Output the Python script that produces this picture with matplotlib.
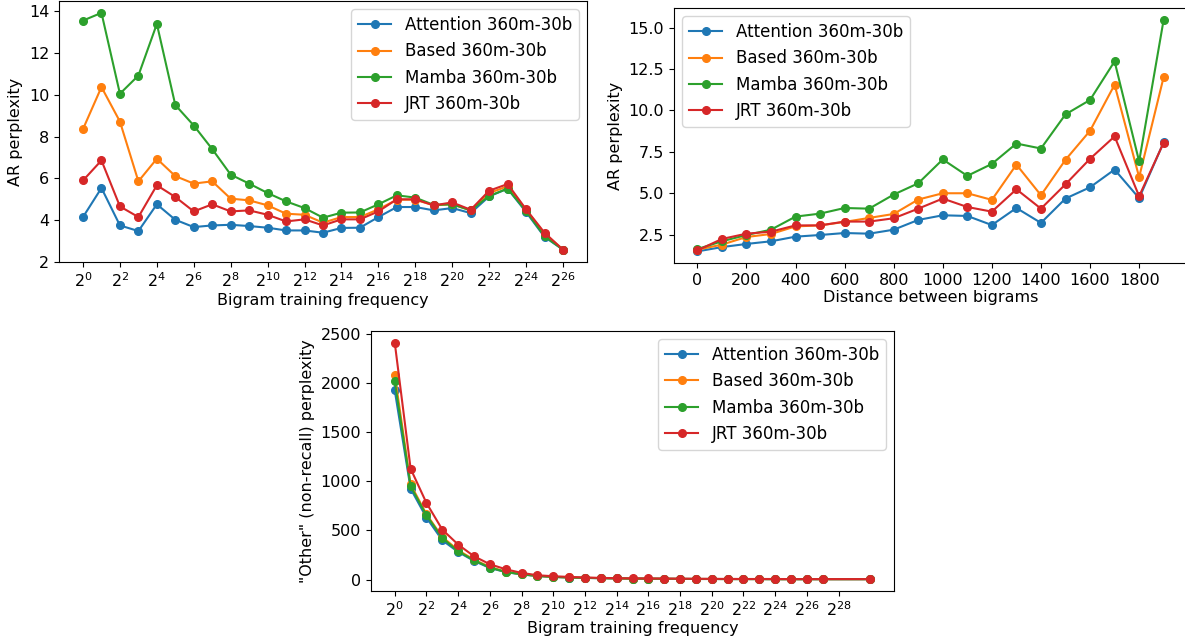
import matplotlib
matplotlib.use("Agg")
import matplotlib.pyplot as plt

plt.rcParams['font.size'] = 11.5

modeli = ["Attention 360m-30b", "Based 360m-30b", "Mamba 360m-30b", "JRT 360m-30b"]
boje = ["#1f77b4", "#ff7f0e", "#2ca02c", "#d62728"]

# AR perplexity po frekvenciji (eksponent od 2)
frek_exp = list(range(27))
ar_frek = {
    "Attention 360m-30b": [4.15, 5.54, 3.75, 3.48, 4.76, 4.02, 3.67, 3.75, 3.78, 3.72, 3.64, 3.51, 3.51, 3.40,
                           3.63, 3.64, 4.15, 4.63, 4.63, 4.47, 4.58, 4.34, 5.14, 5.51, 4.39, 3.20, 2.59],
    "Based 360m-30b": [8.36, 10.37, 8.72, 5.86, 6.94, 6.11, 5.75, 5.86, 5.03, 4.95, 4.71, 4.31, 4.26, 3.88,
                       4.15, 4.15, 4.52, 4.98, 4.98, 4.71, 4.76, 4.47, 5.30, 5.62, 4.50, 3.35, 2.59],
    "Mamba 360m-30b": [13.55, 13.92, 10.05, 10.92, 13.39, 9.51, 8.53, 7.40, 6.18, 5.75, 5.30, 4.90, 4.58, 4.12,
                       4.36, 4.37, 4.76, 5.19, 5.08, 4.73, 4.76, 4.47, 5.16, 5.51, 4.44, 3.23, 2.59],
    "JRT 360m-30b": [5.90, 6.86, 4.66, 4.15, 5.67, 5.11, 4.42, 4.76, 4.42, 4.47, 4.26, 3.94, 4.04, 3.75,
                     4.04, 4.04, 4.42, 5.00, 5.00, 4.71, 4.85, 4.50, 5.41, 5.73, 4.52, 3.40, 2.59],
}

# AR perplexity po udaljenosti
udaljenost = list(range(0, 2000, 100))
ar_udalj = {
    "Attention 360m-30b": [1.49, 1.75, 1.94, 2.10, 2.38, 2.48, 2.60, 2.56, 2.80, 3.39, 3.67, 3.63, 3.08, 4.11,
                           3.21, 4.68, 5.36, 6.43, 4.70, 8.08],
    "Based 360m-30b": [1.59, 1.90, 2.36, 2.54, 3.00, 3.06, 3.27, 3.51, 3.75, 4.62, 5.00, 5.00, 4.60, 6.73,
                       4.88, 7.02, 8.77, 11.55, 5.97, 12.02],
    "Mamba 360m-30b": [1.63, 2.10, 2.48, 2.80, 3.59, 3.77, 4.11, 4.07, 4.92, 5.60, 7.04, 6.05, 6.77, 8.00,
                       7.70, 9.76, 10.63, 12.96, 6.92, 15.48],
    "JRT 360m-30b": [1.55, 2.24, 2.56, 2.68, 3.06, 3.06, 3.29, 3.29, 3.49, 4.07, 4.68, 4.17, 3.89, 5.24,
                     4.07, 5.54, 7.08, 8.43, 4.82, 8.06],
}

# "Other" perplexity
ostalo_exp = list(range(28)) + [30]
ostalo = {
    "Attention 360m-30b": [1924, 925, 630, 400, 281, 190, 118, 76, 52, 36, 27, 21, 17, 14, 12, 10, 9, 8, 7, 6,
                           6, 5, 5, 5, 4, 4, 4, 4, 4],
    "Based 360m-30b": [2083, 969, 664, 434, 298, 203, 129, 80, 55, 38, 28, 22, 18, 15, 12, 10, 9, 8, 7, 6,
                       6, 5, 5, 5, 4, 4, 4, 4, 4],
    "Mamba 360m-30b": [2016, 949, 654, 423, 288, 196, 122, 78, 54, 37, 27, 21, 17, 14, 12, 10, 9, 8, 7, 6,
                       6, 5, 5, 5, 4, 4, 4, 4, 4],
    "JRT 360m-30b": [2409, 1128, 779, 508, 356, 237, 156, 105, 68, 44, 34, 27, 21, 17, 14, 12, 11, 10, 9, 8,
                     7, 7, 6, 6, 6, 5, 5, 5, 5],
}

fig = plt.figure(figsize=(11.85, 6.36), dpi=100)
W, H = 1185, 636

def osa(l, t, r, b):
    return fig.add_axes([l / W, 1 - b / H, (r - l) / W, (b - t) / H])

ax1 = osa(59, 1, 587, 262)
ax2 = osa(674, 8, 1187, 263)
ax3 = osa(371, 331, 894, 591)

for m, c in zip(modeli, boje):
    ax1.plot(frek_exp, ar_frek[m], marker='o', color=c, label=m, ms=5.5, lw=1.5)
    ax2.plot(udaljenost, ar_udalj[m], marker='o', color=c, label=m, ms=5.5, lw=1.5)
    ax3.plot(ostalo_exp, ostalo[m], marker='o', color=c, label=m, ms=5.5, lw=1.5)

t1 = list(range(0, 27, 2))
ax1.set_xticks(t1)
ax1.set_xticklabels(['$2^{%d}$' % k for k in t1])
ax1.set_yticks([2, 4, 6, 8, 10, 12, 14])
ax1.set_xlabel('Bigram training frequency', labelpad=1.5)
ax1.set_ylabel('AR perplexity')
ax1.legend(loc='upper right', fontsize=12)

ax2.set_xticks(range(0, 1900, 200))
ax2.set_xlabel('Distance between bigrams', labelpad=1.5)
ax2.set_ylabel('AR perplexity')
ax2.legend(loc='upper left', fontsize=12)

t3 = list(range(0, 29, 2))
ax3.set_xticks(t3)
ax3.set_xticklabels(['$2^{%d}$' % k for k in t3])
ax3.set_xlabel('Bigram training frequency', labelpad=1)
ax3.set_ylabel('"Other" (non-recall) perplexity')
ax3.legend(loc='upper right', fontsize=12)

fig.savefig('out.png', dpi=100)
